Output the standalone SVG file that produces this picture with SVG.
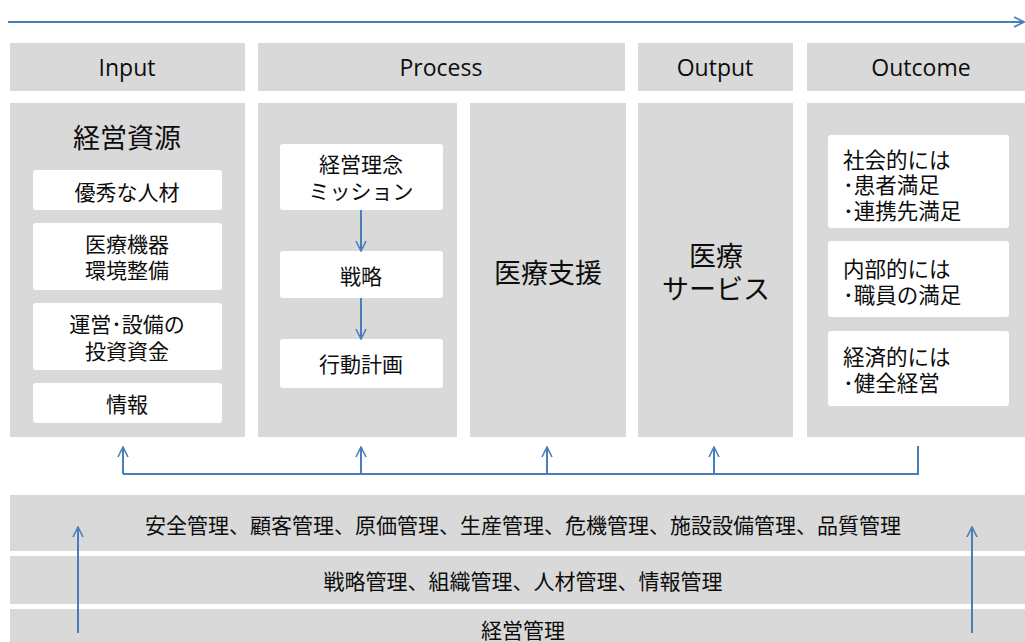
<svg xmlns="http://www.w3.org/2000/svg" width="1025" height="642" viewBox="0 0 1025 642">
<style>
.g{fill:#d9d9d9}
.w{fill:#ffffff}
.h{font-family:"Open Sans","Noto Sans",sans-serif;font-size:23px;fill:#0d0d0d;text-anchor:middle;dominant-baseline:central}
.t{font-family:"Noto Sans CJK JP",sans-serif;font-size:21px;fill:#0d0d0d;text-anchor:middle;dominant-baseline:central}
.l{font-family:"Noto Sans CJK JP",sans-serif;font-size:21.5px;fill:#0d0d0d;dominant-baseline:central}
.b{font-family:"Noto Sans CJK JP",sans-serif;font-size:27px;fill:#0d0d0d;text-anchor:middle;dominant-baseline:central}
.c{stroke:#4a7ebb;stroke-width:2;fill:none}
</style>
<defs>
<marker id="a" viewBox="0 0 12 12" refX="11" refY="6" markerWidth="12" markerHeight="12" markerUnits="userSpaceOnUse" orient="auto">
<path d="M1,1 L11,6 L1,11" fill="none" stroke="#4a7ebb" stroke-width="1.6"/>
</marker>
</defs>
<rect width="1025" height="642" fill="#ffffff"/>

<g id="hdr-input"><rect class="g" x="10" y="43" width="235" height="48"/><text class="h" x="127" y="67">Input</text></g>
<g id="hdr-process"><rect class="g" x="258" y="43" width="367" height="48"/><text class="h" x="441" y="67">Process</text></g>
<g id="hdr-output"><rect class="g" x="638" y="43" width="155" height="48"/><text class="h" x="715" y="67">Output</text></g>
<g id="hdr-outcome"><rect class="g" x="807" y="43" width="218" height="48"/><text class="h" x="921" y="67">Outcome</text></g>

<g id="input">
<rect class="g" x="10" y="103" width="235" height="334"/>
<text class="b" x="127" y="136">経営資源</text>
<rect class="w" x="33" y="170" width="189" height="40" rx="3"/>
<text class="t" x="127" y="191">優秀な人材</text>
<rect class="w" x="33" y="223" width="189" height="67" rx="3"/>
<text class="t" x="127" y="243">医療機器</text>
<text class="t" x="127" y="269">環境整備</text>
<rect class="w" x="33" y="303" width="189" height="67" rx="3"/>
<text class="t" x="127" y="323">運営･設備の</text>
<text class="t" x="127" y="350">投資資金</text>
<rect class="w" x="33" y="383" width="189" height="40" rx="3"/>
<text class="t" x="127" y="403">情報</text>
</g>

<g id="process">
<rect class="g" x="258" y="103" width="199" height="334"/>
<rect class="w" x="280" y="144" width="163" height="66" rx="3"/>
<text class="t" x="361" y="163">経営理念</text>
<text class="t" x="361" y="190">ミッション</text>
<rect class="w" x="280" y="251" width="163" height="47" rx="3"/>
<text class="t" x="361" y="275">戦略</text>
<rect class="w" x="280" y="339" width="163" height="49" rx="3"/>
<text class="t" x="361" y="363">行動計画</text>
</g>

<g id="support">
<rect class="g" x="470" y="103" width="156" height="334"/>
<text class="b" x="548" y="271">医療支援</text>
</g>

<g id="output">
<rect class="g" x="638" y="103" width="155" height="334"/>
<text class="b" x="716" y="254">医療</text>
<text class="b" x="716" y="287">サービス</text>
</g>

<g id="outcome">
<rect class="g" x="807" y="103" width="218" height="334"/>
<rect class="w" x="828" y="135" width="181" height="93" rx="3"/>
<text class="l" x="843" y="158">社会的には</text>
<text class="l" x="843" y="183">･患者満足</text>
<text class="l" x="843" y="209">･連携先満足</text>
<rect class="w" x="828" y="241" width="181" height="76" rx="3"/>
<text class="l" x="843" y="267">内部的には</text>
<text class="l" x="843" y="293">･職員の満足</text>
<rect class="w" x="828" y="331" width="181" height="75" rx="3"/>
<text class="l" x="843" y="355">経済的には</text>
<text class="l" x="843" y="381">･健全経営</text>
</g>

<g id="band1"><rect class="g" x="10" y="495" width="1015" height="56"/><text class="t" x="523" y="524">安全管理、顧客管理、原価管理、生産管理、危機管理、施設設備管理、品質管理</text></g>
<g id="band2"><rect class="g" x="10" y="556" width="1015" height="48"/><text class="t" x="523" y="580">戦略管理、組織管理、人材管理、情報管理</text></g>
<g id="band3"><rect class="g" x="10" y="609" width="1015" height="33"/><text class="t" x="523" y="629">経営管理</text></g>

<g id="connectors">
<line class="c" x1="8" y1="22" x2="1024" y2="22" marker-end="url(#a)"/>
<line class="c" x1="361" y1="210" x2="361" y2="251" marker-end="url(#a)"/>
<line class="c" x1="361" y1="298" x2="361" y2="339" marker-end="url(#a)"/>
<polyline class="c" points="123,474 918,474 918,446"/>
<line class="c" x1="123" y1="474" x2="123" y2="447" marker-end="url(#a)"/>
<line class="c" x1="361" y1="474" x2="361" y2="447" marker-end="url(#a)"/>
<line class="c" x1="547" y1="474" x2="547" y2="447" marker-end="url(#a)"/>
<line class="c" x1="714" y1="474" x2="714" y2="447" marker-end="url(#a)"/>
<line class="c" x1="78" y1="633" x2="78" y2="527" marker-end="url(#a)"/>
<line class="c" x1="972" y1="633" x2="972" y2="527" marker-end="url(#a)"/>
</g>
</svg>
